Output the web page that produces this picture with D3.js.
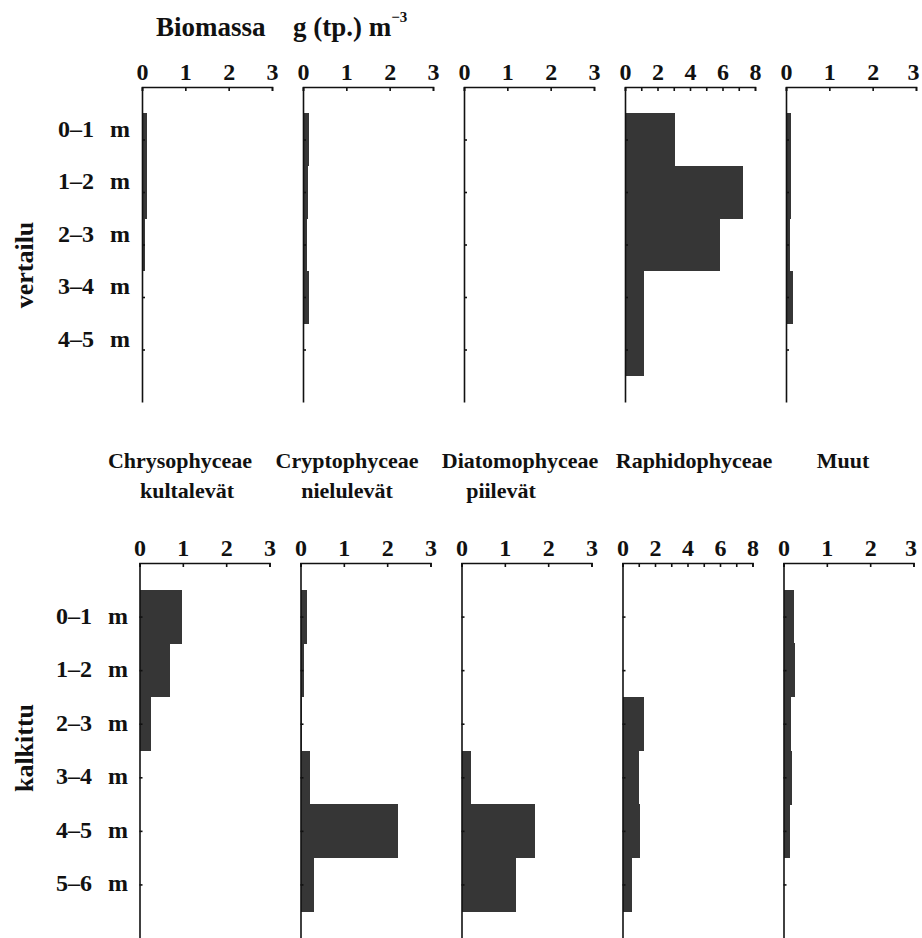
<!DOCTYPE html>
<html>
<head>
<meta charset="utf-8">
<script src="https://cdn.jsdelivr.net/npm/d3@7"></script>
<style>
  html, body { margin: 0; padding: 0; background: #fff; }
  svg { display: block; }
  text { font-family: "Liberation Serif", "Times New Roman", serif; font-weight: bold; fill: #111; }
</style>
</head>
<body>
<svg id="chart" width="922" height="938"></svg>
<script>
// Algal groups (columns) and their Finnish common names
const groups = ["Chrysophyceae", "Cryptophyceae", "Diatomophyceae", "Raphidophyceae", "Muut"];
const commonNames = ["kultalevät", "nielulevät", "piilevät", "", ""];

// Upper end of each group's biomass axis and its labelled ticks
const axisMax = [3, 3, 3, 8, 3];
const tickLabels = [[0, 1, 2, 3], [0, 1, 2, 3], [0, 1, 2, 3], [0, 2, 4, 6, 8], [0, 1, 2, 3]];

// Depth layers
const depthsVertailu = ["0–1", "1–2", "2–3", "3–4", "4–5"];
const depthsKalkittu = ["0–1", "1–2", "2–3", "3–4", "4–5", "5–6"];

// Biomass g (tp.) m^-3 by depth layer, reference lake (vertailu)
const vertChryso = [0.11, 0.11, 0.07, 0, 0];
const vertCrypto = [0.13, 0.11, 0.10, 0.13, 0.02];
const vertDiatom = [0, 0, 0.02, 0, 0];
const vertRaphido = [3.1, 7.25, 5.85, 1.15, 1.18];
const vertMuut = [0.11, 0.11, 0.10, 0.15, 0.02];

// Biomass g (tp.) m^-3 by depth layer, limed lake (kalkittu)
const kalkChryso = [0.97, 0.70, 0.26, 0.02, 0.02, 0.02];
const kalkCrypto = [0.14, 0.07, 0.03, 0.21, 2.24, 0.30];
const kalkDiatom = [0, 0, 0, 0.23, 1.70, 1.26];
const kalkRaphido = [0, 0, 1.3, 1.0, 1.05, 0.6];
const kalkMuut = [0.25, 0.27, 0.17, 0.20, 0.14, 0.02];

const svg = d3.select("#chart");
const barFill = "#363636";

// Title
const title = svg.append("text").attr("x", 156).attr("y", 36).style("font-size", "27px");
title.append("tspan").text("Biomassa");
title.append("tspan").attr("x", 293).text("g (tp.) m");
title.append("tspan").attr("dy", -14).style("font-size", "15px").text("−3");

function drawBlock(opts) {
  const { top, bottom, left0, step, width, depths, series, sideLabel, sideY, labelDy, labelX0 } = opts;
  const nLayers = depths.length;
  const y = d3.scaleLinear().domain([0, nLayers + 1]).range([top, bottom]);

  // depth labels
  depths.forEach((d, i) => {
    const t = svg.append("text")
      .attr("x", labelX0)
      .attr("y", y(i + 1) + labelDy)
      .attr("dominant-baseline", "middle")
      .style("font-size", "24px");
    t.append("tspan").text(d);
    t.append("tspan").attr("x", labelX0 + 52).text("m");
  });

  // side label
  svg.append("text")
    .attr("transform", `translate(${27},${sideY}) rotate(-90)`)
    .attr("text-anchor", "middle")
    .attr("dominant-baseline", "middle")
    .style("font-size", "26px")
    .text(sideLabel);

  series.forEach((vals, g) => {
    const x0 = left0 + g * step;
    const x = d3.scaleLinear().domain([0, axisMax[g]]).range([x0, x0 + width]);
    const panel = svg.append("g");

    // bars, one per depth layer, stacked flush into a profile
    panel.selectAll("rect")
      .data(vals)
      .join("rect")
      .attr("x", x(0))
      .attr("y", (v, i) => y(i + 0.5))
      .attr("width", v => Math.max(0, x(v) - x(0)))
      .attr("height", (v, i) => y(i + 1.5) - y(i + 0.5) + 0.5)
      .attr("fill", barFill)
      .attr("shape-rendering", "crispEdges");

    // biomass axis along the top
    const labels = new Set(tickLabels[g]);
    const xAxis = d3.axisTop(x)
      .tickValues(d3.range(0, axisMax[g] + 1))
      .tickSizeInner(-4)
      .tickSizeOuter(-4)
      .tickPadding(7)
      .tickFormat(v => labels.has(v) ? String(v) : "");
    const gx = panel.append("g").attr("transform", `translate(0,${top})`).call(xAxis);
    gx.attr("font-family", null).attr("font-size", null);
    gx.selectAll("text").style("font-size", "24px").attr("fill", null);
    if (g === series.length - 1) {
      // keep the rightmost label inside the page
      gx.selectAll("text").filter(v => v === axisMax[g]).attr("dx", -3);
    }
    gx.selectAll("path, line").attr("stroke", "#111").attr("stroke-width", 1.6);

    // depth axis
    const yAxis = d3.axisLeft(y)
      .tickValues(d3.range(1, nLayers + 1))
      .tickSizeInner(-3)
      .tickSizeOuter(0)
      .tickFormat("");
    const gy = panel.append("g").attr("transform", `translate(${x(0)},0)`).call(yAxis);
    gy.selectAll("path, line").attr("stroke", "#111").attr("stroke-width", 1.6);
  });
}

drawBlock({
  top: 87, bottom: 402, left0: 142, step: 161, width: 130,
  depths: depthsVertailu,
  series: [vertChryso, vertCrypto, vertDiatom, vertRaphido, vertMuut],
  sideLabel: "vertailu", sideY: 265, labelDy: -9, labelX0: 58
});

drawBlock({
  top: 563, bottom: 938, left0: 139.5, step: 161, width: 130,
  depths: depthsKalkittu,
  series: [kalkChryso, kalkCrypto, kalkDiatom, kalkRaphido, kalkMuut],
  sideLabel: "kalkittu", sideY: 748, labelDy: 1, labelX0: 56
});

// Group names between the two blocks
const nameX = [180, 347, 520, 694, 843];
const commonX = [187, 347, 501];
groups.forEach((g, i) => {
  svg.append("text").attr("x", nameX[i]).attr("y", 468)
    .attr("text-anchor", "middle").style("font-size", "22px").text(g);
  if (commonNames[i]) {
    svg.append("text").attr("x", commonX[i]).attr("y", 498)
      .attr("text-anchor", "middle").style("font-size", "22px").text(commonNames[i]);
  }
});
</script>
</body>
</html>
